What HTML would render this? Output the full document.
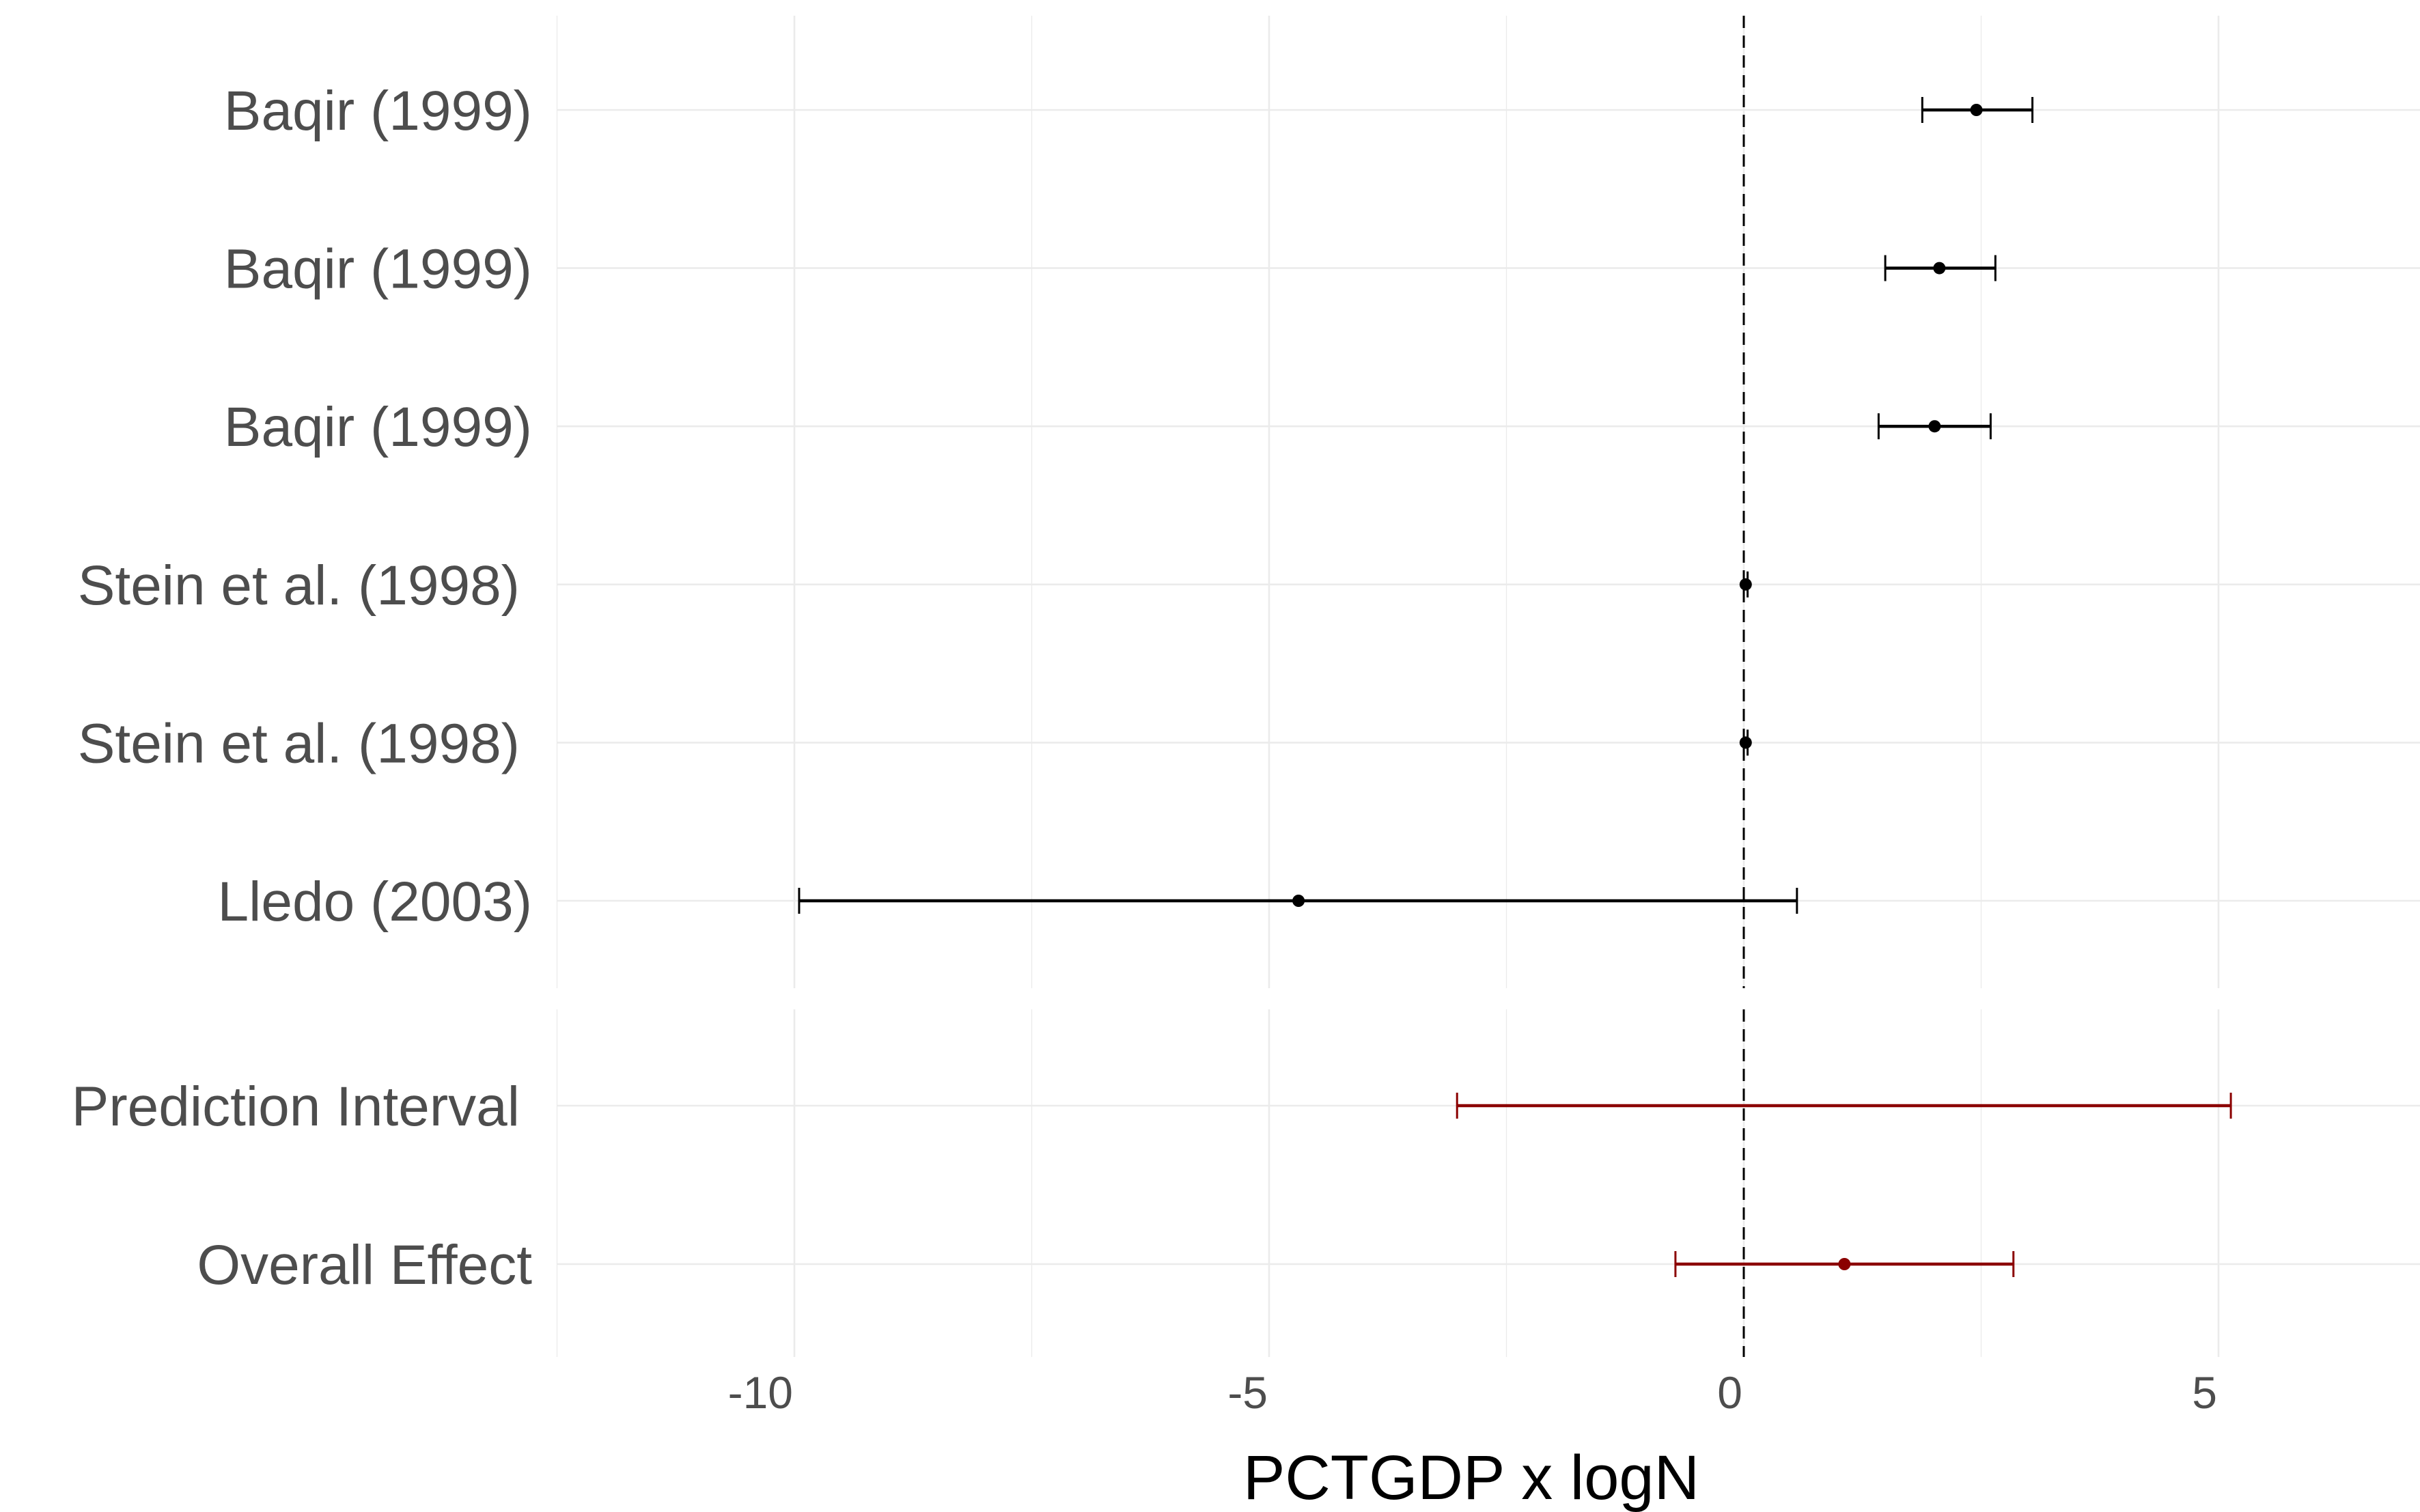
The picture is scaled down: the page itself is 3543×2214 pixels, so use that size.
<!DOCTYPE html>
<html><head><meta charset="utf-8"><style>
html,body{margin:0;padding:0;background:#fff;}
svg{display:block;font-family:"Liberation Sans",sans-serif;}
</style></head><body>
<svg id="chart" width="3543" height="2214" viewBox="0 0 3543 2214" xmlns="http://www.w3.org/2000/svg">
<g id="grid"></g><g id="marks"></g><g id="labels"></g>
<text x="2154" y="2195" font-size="92" text-anchor="middle" fill="#000">PCTGDP x logN</text>
</svg>
<script>
const studies = ["Baqir (1999)","Baqir (1999)","Baqir (1999)","Stein et al. (1998)","Stein et al. (1998)","Lledo (2003)"];
const estimates = [2.45, 2.06, 2.01, 0.02, 0.02, -4.69];
const lower = [1.88, 1.49, 1.42, 0.00, 0.00, -9.95];
const upper = [3.04, 2.65, 2.60, 0.04, 0.04, 0.56];
const summaryLabels = ["Prediction Interval","Overall Effect"];
const summaryEst = [null, 1.06];
const summaryLower = [-3.02, -0.72];
const summaryUpper = [5.13, 2.84];
const xTicks = [-10, -5, 0, 5];
const xTickLabels = ["-10","-5","0","5"];
const xMinor = [-12.5, -7.5, -2.5, 2.5];

const NS = "http://www.w3.org/2000/svg";
const X0 = 2553, PX = 139.0;
const xs = v => X0 + v * PX;
const panelL = 815, panelR = 3543;
const topPanel = [23, 1447], botPanel = [1478, 1987];
const topRows = i => 161 + i * 231.6;
const botRows = i => 1619 + i * 232;
function el(tag, attrs, parent){const e=document.createElementNS(NS,tag);for(const k in attrs)e.setAttribute(k,attrs[k]);parent.appendChild(e);return e;}
const grid=document.getElementById('grid'), marks=document.getElementById('marks'), labels=document.getElementById('labels');

[topPanel, botPanel].forEach(p=>{
  xMinor.forEach(v=>{
    const l=el('line',{x1:xs(v),x2:xs(v),y1:p[0],y2:p[1],stroke:'#ebebeb','stroke-width':1.3},grid);
    
    
  });
  xTicks.forEach(v=>{
    const l=el('line',{x1:xs(v),x2:xs(v),y1:p[0],y2:p[1],stroke:'#ebebeb','stroke-width':2.6},grid);
    
    
  });
});
studies.forEach((s,i)=>{
  const l=el('line',{x1:panelL,x2:panelR,y1:topRows(i),y2:topRows(i),stroke:'#ebebeb','stroke-width':2.6},grid);
  
  
});
summaryLabels.forEach((s,i)=>{
  const l=el('line',{x1:panelL,x2:panelR,y1:botRows(i),y2:botRows(i),stroke:'#ebebeb','stroke-width':2.6},grid);
  
  
});
[topPanel, botPanel].forEach(p=>{
  const l=el('line',{x1:xs(0),x2:xs(0),y1:p[0],y2:p[1],stroke:'#000','stroke-width':3,'stroke-dasharray':'18 11'},marks);
  
  
});
function errbar(y,lo,hi,est,color,name){
  const g=el('g',{},marks);
  
  
  el('line',{x1:xs(lo),x2:xs(hi),y1:y,y2:y,stroke:color,'stroke-width':4.5},g);
  el('line',{x1:xs(lo),x2:xs(lo),y1:y-19,y2:y+19,stroke:color,'stroke-width':3},g);
  el('line',{x1:xs(hi),x2:xs(hi),y1:y-19,y2:y+19,stroke:color,'stroke-width':3},g);
  if(est!==null) el('circle',{cx:xs(est),cy:y,r:9,fill:color},g);
}
studies.forEach((s,i)=>{
  errbar(topRows(i),lower[i],upper[i],estimates[i],'#000','study-errorbar');
  const t=el('text',{x:s.startsWith('Stein')?761:779,y:topRows(i)+29,'font-size':82,'text-anchor':'end',fill:'#4d4d4d'},labels);
  t.textContent=s;
  
  
});
summaryLabels.forEach((s,i)=>{
  errbar(botRows(i),summaryLower[i],summaryUpper[i],summaryEst[i],'#8b0000','summary-errorbar');
  const t=el('text',{x:i===0?761:779,y:botRows(i)+29,'font-size':82,'text-anchor':'end',fill:'#4d4d4d'},labels);
  t.textContent=s;
  
  
});
xTicks.forEach((v,i)=>{
  const t=el('text',{x:xs(v)-2,y:2062,'font-size':66,'text-anchor':'end',fill:'#4d4d4d'},labels);
  t.textContent=xTickLabels[i];
  
  
});
</script>
</body></html>
